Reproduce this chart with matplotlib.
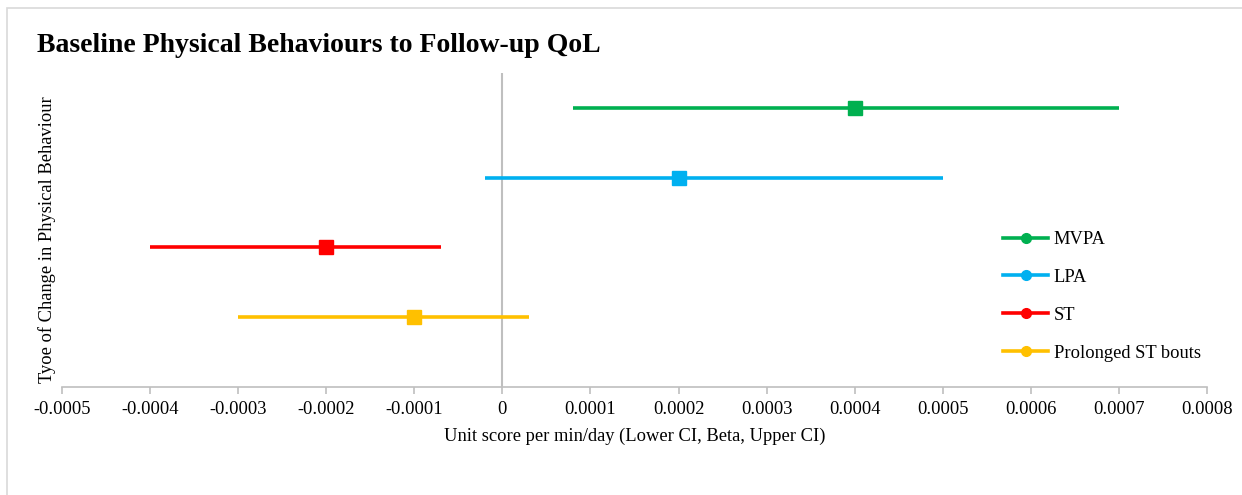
import matplotlib.pyplot as plt
from matplotlib.lines import Line2D
from matplotlib.patches import Rectangle

plt.rcParams["font.family"] = ["Liberation Serif", "DejaVu Serif"]

behaviours = ["MVPA", "LPA", "ST", "Prolonged ST bouts"]
lower_ci = [0.00008, -0.00002, -0.0004, -0.0003]
beta = [0.0004, 0.0002, -0.0002, -0.0001]
upper_ci = [0.0007, 0.0005, -0.00007, 0.00003]
colors = ["#00B050", "#00B0F0", "#FF0000", "#FFC000"]

xticks = [-0.0005, -0.0004, -0.0003, -0.0002, -0.0001, 0,
          0.0001, 0.0002, 0.0003, 0.0004, 0.0005, 0.0006, 0.0007, 0.0008]
xtick_labels = ["-0.0005", "-0.0004", "-0.0003", "-0.0002", "-0.0001", "0",
                "0.0001", "0.0002", "0.0003", "0.0004", "0.0005", "0.0006",
                "0.0007", "0.0008"]

W, H = 1242, 495
fig = plt.figure(figsize=(W / 100, H / 100), dpi=100)
ax = fig.add_axes([62 / W, 1 - 387 / H, (1207 - 62) / W, (387 - 73) / H])

# outer chart border
fig.patches.append(Rectangle((7 / W, -0.1), 1.2, 1 - 8 / H + 0.1,
                             transform=fig.transFigure, fill=False,
                             edgecolor="#D9D9D9", lw=1.2))

n = len(behaviours)
handles = []
for i, (name, lo, b, hi, c) in enumerate(zip(behaviours, lower_ci, beta,
                                             upper_ci, colors)):
    y = n - i
    ax.plot([lo, hi], [y, y], color=c, lw=2.6, solid_capstyle="butt", zorder=3)
    ax.plot([b], [y], marker="s", ms=9.5, color=c, zorder=4)
    handles.append(Line2D([0], [0], color=c, lw=2.6, marker="o", ms=7,
                          label=name))

ax.axvline(0, color="#BFBFBF", lw=1.5, zorder=1)

ax.set_xlim(-0.0005, 0.0008)
ax.set_ylim(0, 4.5)
ax.set_xticks(xticks)
ax.set_xticklabels(xtick_labels, fontsize=13.3)
ax.set_yticks([])
for s in ["top", "right", "left"]:
    ax.spines[s].set_visible(False)
ax.spines["bottom"].set_color("#BFBFBF")
ax.spines["bottom"].set_linewidth(1.2)
ax.tick_params(axis="x", length=5, width=1.2, color="#BFBFBF", pad=5)

ax.set_xlabel("Unit score per min/day (Lower CI, Beta, Upper CI)",
              fontsize=13.3, labelpad=7)
fig.text(47 / W, 1 - 240 / H, "Tyoe of Change in Physical Behaviour",
         rotation=90, fontsize=13.3, ha="center", va="center")

fig.text(37 / W, 1 - 52 / H, "Baseline Physical Behaviours to Follow-up QoL",
         fontsize=20, fontweight="bold", ha="left", va="baseline")

fig.legend(handles=handles, loc="upper left",
           bbox_to_anchor=(1003 / W, 1 - 231 / H),
           bbox_transform=fig.transFigure, frameon=False, fontsize=13.3,
           borderpad=0, borderaxespad=0, handlelength=2.45,
           handletextpad=0.3, labelspacing=1.13)

fig.savefig("out.png", dpi=100)
